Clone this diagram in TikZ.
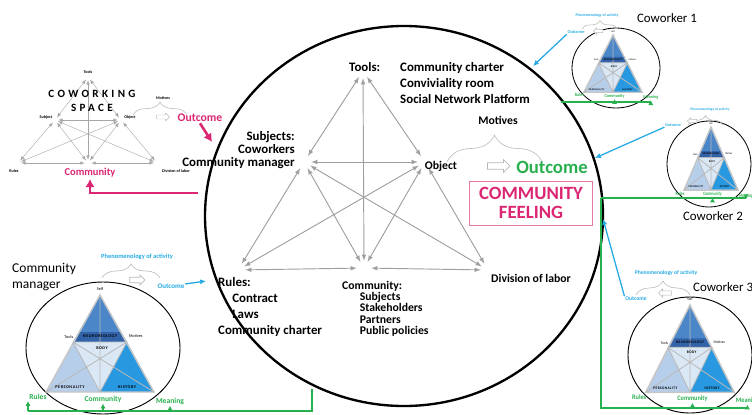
\documentclass[tikz,border=0pt]{standalone}
\usepackage{fontspec}
\setmainfont{Carlito}
\usetikzlibrary{arrows,arrows.meta,shapes.arrows,decorations.pathreplacing}

\definecolor{pinkcw}{RGB}{219,38,115}
\definecolor{pinkbox}{RGB}{230,120,165}
\definecolor{greencw}{RGB}{40,176,78}
\definecolor{bluecw}{RGB}{38,170,228}
\definecolor{neurob}{RGB}{74,134,200}
\definecolor{bandb}{RGB}{50,98,168}
\definecolor{bodyb}{RGB}{218,231,245}
\definecolor{persob}{RGB}{182,206,234}
\definecolor{histb}{RGB}{40,152,224}

\newcommand{\fsz}[2]{\fontsize{#1}{#2}\selectfont}

\tikzset{
    node style vertex/.style={circle,minimum size=12pt,inner sep=0pt},
    node style minivertex/.style={circle,minimum size=5pt,inner sep=0pt},
    arrow style act/.style={<->,draw=gray!75,line width=0.8pt},
    arrow style mini/.style={<->,draw=gray!70,line width=0.35pt},
    arrow style green/.style={draw=greencw,line width=1.6pt},
    arrow style greentick/.style={-{Latex[length=4pt,width=4.5pt]},draw=greencw,line width=1.3pt},
    arrow style blue/.style={-{Latex[length=5pt,width=4.5pt]},draw=bluecw,line width=1.1pt},
    arrow style pink/.style={-{Latex[length=7pt,width=8pt]},draw=pinkcw,line width=2.2pt},
    node style bold/.style={font=\bfseries\fsz{11}{13.7},inner sep=0pt},
    node style mini/.style={font=\bfseries\fsz{3.5}{4},inner sep=0.5pt},
    node style tiny/.style={font=\fsz{3.6}{4},inner sep=0.5pt},
    node style caps/.style={font=\bfseries\fsz{3.6}{4}\addfontfeature{LetterSpace=12},inner sep=0pt},
    node style green/.style={font=\bfseries\fsz{6.5}{7},text=greencw,inner sep=1pt},
    node style blue/.style={font=\bfseries\fsz{#1}{#1},text=bluecw,inner sep=0.5pt},
    node style person/.style={font=\fsz{11}{13.5},inner sep=0pt},
    node style hollow/.style={single arrow,draw=gray!55,line width=0.6pt,fill=white,
        inner xsep=0pt,inner ysep=#1,single arrow head extend=#1,minimum width=0pt},
    brace style/.style={draw=gray!55,line width=0.5pt,decorate,decoration={brace,amplitude=#1}},
}

% one person: triangle of the self, apex at (#1,#2)
\newcommand{\selfsystem}[5]{%
  \begin{scope}[shift={(#1,#2)},xscale=#3,yscale=#4,every node/.append style={transform shape}]
    \coordinate (#5-s) at (0,0);
    \coordinate (#5-t) at (-27,47);
    \coordinate (#5-m) at (27,47);
    \coordinate (#5-bl) at (-54,97);
    \coordinate (#5-bc) at (0,97);
    \coordinate (#5-br) at (54,97);
    \fill[neurob] (#5-s) -- (#5-t) -- (#5-m) -- cycle;
    \fill[bodyb] (#5-t) -- (#5-m) -- (#5-bc) -- cycle;
    \fill[persob] (#5-t) -- (#5-bl) -- (#5-bc) -- cycle;
    \fill[histb] (#5-m) -- (#5-br) -- (#5-bc) -- cycle;
    \fill[bandb] (-20.5,37) -- (20.5,37) -- (25.5,46.5) -- (-25.5,46.5) -- cycle;
    \draw[line width=1.2pt,gray!45] (#5-s) -- (#5-bl) -- (#5-br) -- cycle;
    \draw[line width=0.7pt,gray!55] (#5-s) -- (#5-bc) (#5-t) -- (#5-m)
        (#5-t) -- (#5-br) (#5-m) -- (#5-bl) (#5-t) -- (#5-bc) (#5-m) -- (#5-bc);
    \node[node style tiny] (#5-selfl) at (0,-6) {Self};
    \node[node style tiny,anchor=east] (#5-toolsl) at (-26,42) {Tools};
    \node[node style tiny,anchor=west] (#5-motivl) at (28,41) {Motives};
    \node[node style caps] (#5-neuro) at (0,41.5) {NEUROBIOLOGY};
    \node[node style caps] (#5-body) at (2,53) {BODY};
    \node[node style caps] (#5-perso) at (-30,92) {PERSONALITY};
    \node[node style caps] (#5-hist) at (27,92) {HISTORY};
    \node[node style green] (#5-rules) at (-62,102) {Rules};
    \node[node style green] (#5-comm) at (3,104) {Community};
    \node[node style green] (#5-mean) at (70,106) {Meaning};
  \end{scope}}

\begin{document}
\begin{tikzpicture}[x=0.03cm,y=-0.03cm,>=latex]
\useasboundingbox (0,0) rectangle (752,414);

% the coworking space
\draw[line width=2pt] (404,216) ellipse [x radius=199,y radius=190];

\node[node style vertex] (tools) at (363,71) {};
\node[node style vertex] (subj) at (304,162) {};
\node[node style vertex] (obj) at (425,162) {};
\node[node style vertex] (rules) at (238,270) {};
\node[node style vertex] (comm) at (364,268) {};
\node[node style vertex] (div) at (488,270) {};
\foreach \a/\b in {tools/subj,tools/obj,tools/comm,subj/obj,subj/rules,subj/comm,
                   subj/div,obj/rules,obj/comm,obj/div,rules/comm,comm/div}
    \draw[arrow style act] (\a) -- (\b);

\node[node style bold,anchor=north west] (toolshd) at (349,62) {Tools:};
\node[node style bold,anchor=north west,align=left] (toolsls) at (400,62)
    {Community charter\\Conviviality room\\Social Network Platform};
\node[node style bold,anchor=north east,align=right,font=\bfseries\fsz{11}{11.2}] (subjl) at (295,131)
    {Subjects:\\Coworkers\\Community manager};
\node[node style bold,font=\bfseries\fsz{10}{12}] (objl) at (441,166) {Object};
\node[node style bold,anchor=north west,align=left] (rulesl) at (218,277)
    {Rules:\\\hspace*{12pt}Contract\\\hspace*{12pt}Laws\\Community charter};
\node[node style bold,anchor=north west,align=left,font=\bfseries\fsz{10}{9.6}] (comml) at (342,281)
    {Community:\\\hspace*{15pt}Subjects\\\hspace*{15pt}Stakeholders\\\hspace*{15pt}Partners\\\hspace*{15pt}Public policies};
\node[node style bold,font=\bfseries\fsz{10}{12}] (divl) at (531,278) {Division of labor};

\node[node style bold,font=\bfseries\fsz{10}{12}] (motl) at (498,120) {Motives};
\coordinate (braceA) at (447,162);
\coordinate (braceB) at (542,162);
\draw[brace style=23pt] (braceA) -- (braceB);
\node[node style hollow=2.5pt,minimum height=19pt] (outarr) at (497,166) {};
\node[font=\bfseries\fsz{16}{18},text=greencw,inner sep=0pt] (outl) at (552,167) {Outcome};
\node[draw=pinkbox,line width=0.6pt,text=pinkcw,font=\bfseries\fsz{16}{16.5},align=center,
      minimum width=105pt,minimum height=37.5pt,inner sep=0pt] (feel) at (531,203)
    {COMMUNITY\\FEELING};

% coworking space (small)
\node[node style minivertex] (cws-tools) at (88,77) {};
\node[node style minivertex] (cws-subj) at (55,120) {};
\node[node style minivertex] (cws-obj) at (121,120) {};
\node[node style minivertex] (cws-rules) at (18,163) {};
\node[node style minivertex] (cws-comm) at (88,163) {};
\node[node style minivertex] (cws-div) at (157,163) {};
\foreach \a/\b in {tools/subj,tools/obj,tools/comm,subj/obj,subj/rules,subj/comm,
                   subj/div,obj/rules,obj/comm,obj/div,rules/comm,comm/div}
    \draw[arrow style mini] (cws-\a) -- (cws-\b);
\node[node style mini] (cws-toolsl) at (88,72) {Tools};
\node[node style mini] (cws-subjl) at (46,117) {Subject};
\node[node style mini] (cws-objl) at (130,117) {Object};
\node[node style mini] (cws-rulesl) at (14,171) {Rules};
\node[node style mini] (cws-divl) at (176,171) {Division of labor};
\node[node style mini] (cws-motl) at (163,98) {Motives};
\node[font=\bfseries\fsz{9.5}{12}\addfontfeature{LetterSpace=30},align=center,inner sep=0pt] (cws-title) at (92,101)
    {COWORKING\\SPACE};
\coordinate (cws-braceA) at (133,115);
\coordinate (cws-braceB) at (187,115);
\draw[brace style=11pt] (cws-braceA) -- (cws-braceB);
\node[node style hollow=1.5pt,minimum height=11pt,line width=0.4pt] (cws-arr) at (162,117) {};
\node[font=\bfseries\fsz{10}{12},text=pinkcw,inner sep=1pt] (cws-out) at (200,118) {Outcome};
\node[font=\bfseries\fsz{9}{11},text=pinkcw,inner sep=1pt] (cws-comml) at (90,173) {Community};
\coordinate (pinkin) at (212,142);
\coordinate (pinkout) at (198,193);
\draw[arrow style pink] (cws-out.south) -- (pinkin);
\draw[arrow style pink] (pinkout) -| (cws-comml.south);

% community manager
\draw[line width=0.8pt] (103,348) ellipse [x radius=77,y radius=66];
\selfsystem{100}{295}{1}{1}{mgr}
\node[node style person,anchor=north west,align=left,font=\fsz{11.5}{14}] (mgrl) at (12,263) {Community\\manager};
\node[node style blue=5.5] (mgr-phen) at (137,257) {Phenomenology of activity};
\coordinate (mgr-braceA) at (102,278);
\coordinate (mgr-braceB) at (160,278);
\draw[brace style=12pt] (mgr-braceA) -- (mgr-braceB);
\node[node style hollow=2pt,minimum height=13pt] (mgr-arr) at (136,280) {};
\node[node style blue=6] (mgr-out) at (171,286) {Outcome};
\coordinate (mgr-in) at (206,281);
\draw[arrow style blue] (mgr-out) -- (mgr-in);
\coordinate (mgr-join) at (312,389);
\coordinate (mgr-bus) at (0,411);
\draw[arrow style green] (mgr-join) |- (mgr-rules.south west |- mgr-bus);
\draw[arrow style greentick] (mgr-rules.south west |- mgr-bus) -- (mgr-rules.south west);
\draw[arrow style greentick] (mgr-comm.south |- mgr-bus) -- (mgr-comm.south);
\draw[arrow style greentick] (mgr-mean.south |- mgr-bus) -- (mgr-mean.south);

% coworker 1
\draw[line width=0.7pt] (616,68) ellipse [x radius=44,y radius=40];
\selfsystem{613}{35}{0.54}{0.59}{cw1}
\node[node style person] (cw1l) at (667,18) {Coworker 1};
\node[node style blue=3.3] (cw1-phen) at (597,15) {Phenomenology of activity};
\coordinate (cw1-braceA) at (582,29);
\coordinate (cw1-braceB) at (618,29);
\draw[brace style=7pt] (cw1-braceA) -- (cw1-braceB);
\node[node style hollow=1.2pt,minimum height=8pt,line width=0.4pt,shape border rotate=180] (cw1-arr) at (599,31) {};
\node[node style blue=3.8] (cw1-out) at (576,32) {Outcome};
\coordinate (cw1-in) at (533,66);
\draw[arrow style blue] (cw1-out.south west) -- (cw1-in);
\coordinate (cw1-join) at (561,102);
\draw[arrow style green] (cw1-join) -- (cw1-mean.south |- cw1-join);
\draw[arrow style greentick] (cw1-comm.south |- cw1-join) -- (cw1-comm.south);
\draw[arrow style greentick] (cw1-mean.south |- cw1-join) -- (cw1-mean.south);

% coworker 2
\draw[line width=0.7pt] (709,164) ellipse [x radius=42,y radius=43];
\selfsystem{711}{127}{0.5}{0.65}{cw2}
\node[node style person] (cw2l) at (713,216) {Coworker 2};
\node[node style blue=3] (cw2-phen) at (710,110) {Phenomenology of activity};
\coordinate (cw2-braceA) at (688,125);
\coordinate (cw2-braceB) at (723,125);
\draw[brace style=8pt] (cw2-braceA) -- (cw2-braceB);
\node[node style hollow=1.2pt,minimum height=8pt,line width=0.4pt,shape border rotate=180] (cw2-arr) at (693,121) {};
\node[node style blue=3.5] (cw2-out) at (673,125) {Outcome};
\coordinate (cw2-in) at (595,158);
\draw[arrow style blue] (cw2-out.south west) -- (cw2-in);
\coordinate (cw2-join) at (601,198);
\draw[arrow style green] (cw2-join) -- (cw2-mean.south |- cw2-join);
\draw[arrow style greentick] (cw2-comm.south |- cw2-join) -- (cw2-comm.south);
\draw[arrow style greentick] (cw2-mean.south |- cw2-join) -- (cw2-mean.south);

% coworker 3
\draw[line width=0.8pt] (690,355) ellipse [x radius=62,y radius=58];
\selfsystem{690}{305}{0.82}{0.9}{cw3}
\node[node style person,anchor=west] (cw3l) at (693,287) {Coworker 3};
\node[node style blue=4.8] (cw3-phen) at (666,273) {Phenomenology of activity};
\coordinate (cw3-braceA) at (636,295);
\coordinate (cw3-braceB) at (690,295);
\draw[brace style=12pt] (cw3-braceA) -- (cw3-braceB);
\node[node style hollow=1.6pt,minimum height=11pt,line width=0.5pt,shape border rotate=180] (cw3-arr) at (666,293) {};
\node[node style blue=4.8] (cw3-out) at (636,299) {Outcome};
\coordinate (cw3-in) at (603,219);
\draw[arrow style blue] (cw3-out.north west) -- (cw3-in);
\coordinate (cw3-bus) at (0,408);
\draw[arrow style green] (cw2-join) |- (cw3-mean.south |- cw3-bus);
\draw[arrow style greentick] (cw3-comm.south |- cw3-bus) -- (cw3-comm.south);
\draw[arrow style greentick] (cw3-mean.south |- cw3-bus) -- (cw3-mean.south);
\end{tikzpicture}
\end{document}
